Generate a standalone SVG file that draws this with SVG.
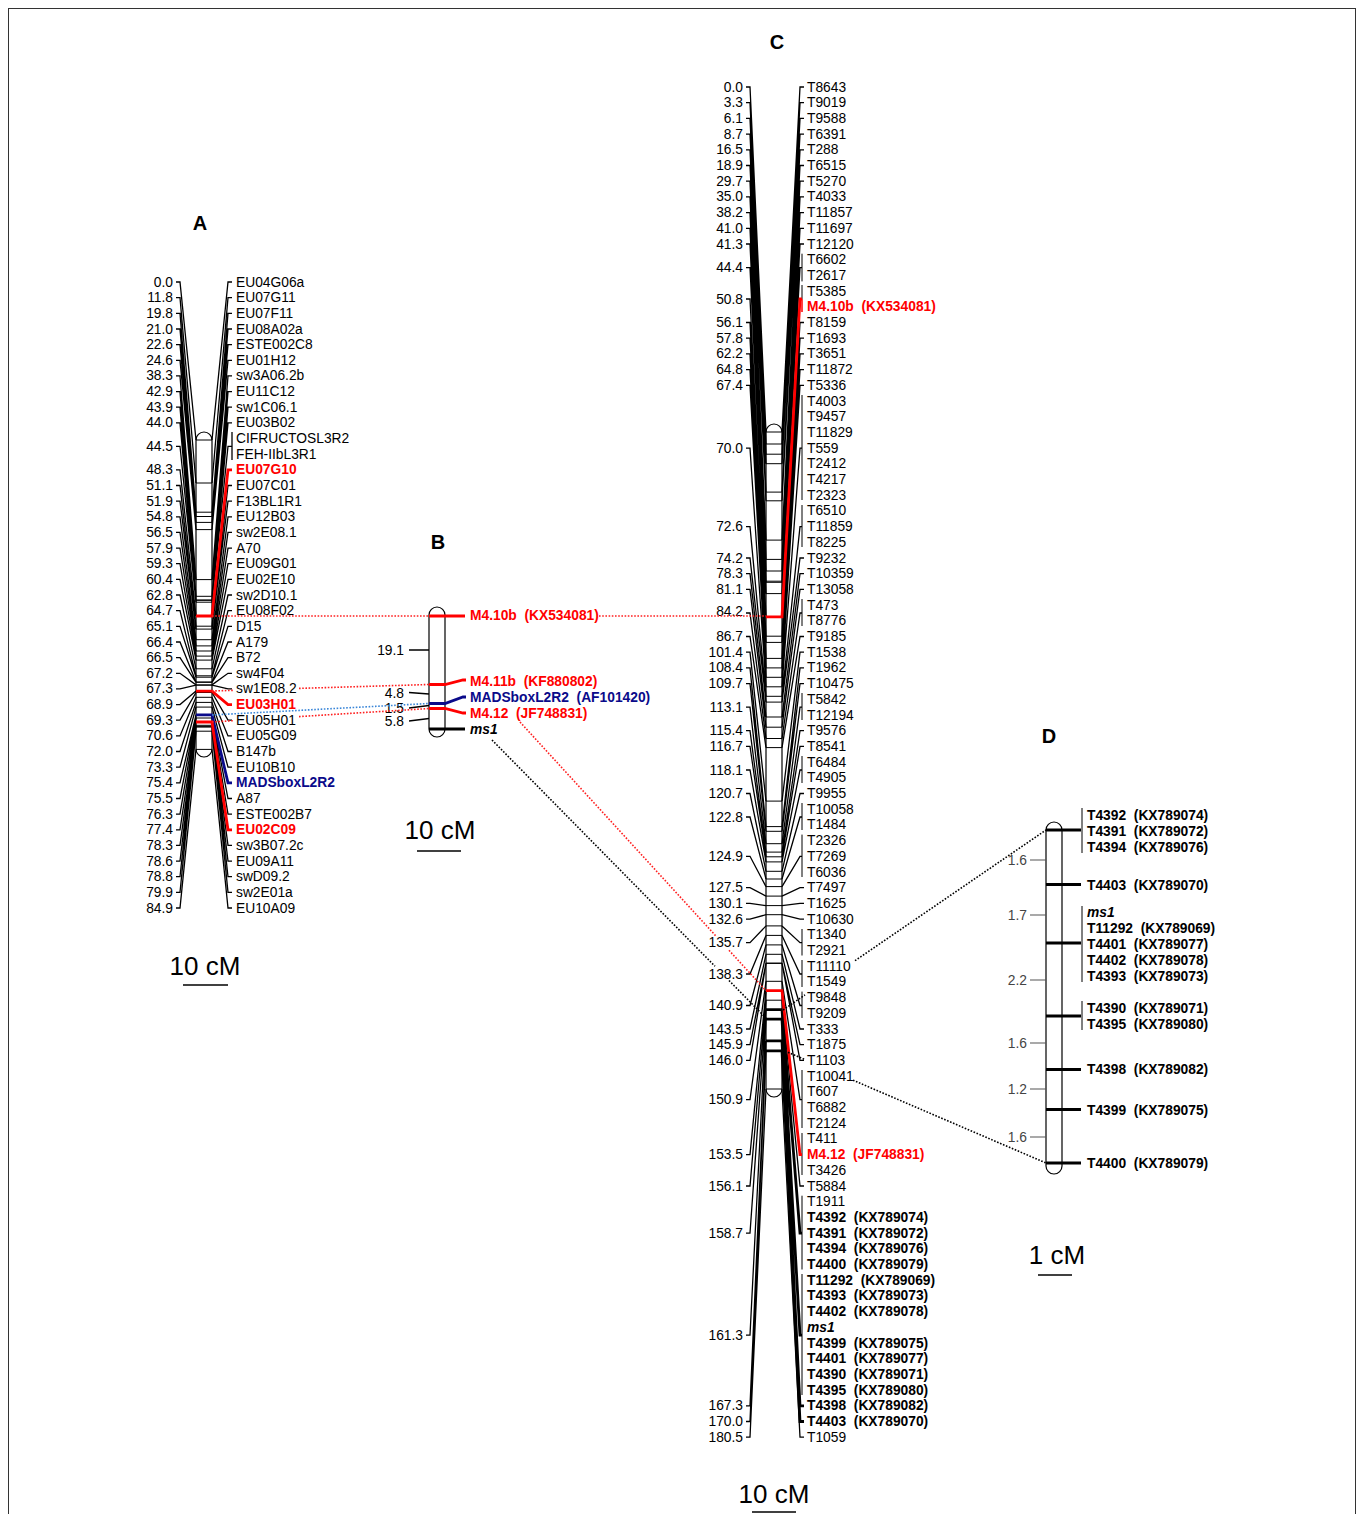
<svg xmlns="http://www.w3.org/2000/svg" width="1360" height="1514" viewBox="0 0 1360 1514">
<style>
text{font-family:"Liberation Sans",Arial,sans-serif;font-size:13.8px;dominant-baseline:central;fill:#000;white-space:pre}
.e{text-anchor:end}
.b{font-weight:bold}
.r{fill:#ff0000}
.u{fill:#0a0a8a}
.i{font-style:italic}
.g{fill:#444}
.t{font-size:20px;font-weight:bold;text-anchor:middle;dominant-baseline:auto}
.s{font-size:26px;text-anchor:middle;dominant-baseline:auto}
.cn{fill:none;stroke:#000;stroke-width:1.3}
.bl{fill:none;stroke:#000;stroke-width:1}
.ck{fill:none;stroke:#000;stroke-width:2.8}
.cr{fill:none;stroke:#ff0000;stroke-width:2.8}
.cu{fill:none;stroke:#0a0a8a;stroke-width:2.8}
.bar{fill:#fff;stroke:#000;stroke-width:1.2}
.dr{fill:none;stroke:#ff2020;stroke-width:1.6;stroke-dasharray:1.6 1.6}
.db{fill:none;stroke:#3a86d8;stroke-width:1.6;stroke-dasharray:1.6 1.6}
.dk{fill:none;stroke:#000;stroke-width:1.6;stroke-dasharray:1.6 1.6}
.gt{fill:none;stroke:#555;stroke-width:1.2}
.sb{stroke:#000;stroke-width:1.5}
</style>
<rect x="8.5" y="8.5" width="1347" height="1530" fill="none" stroke="#333" stroke-width="1"/>
<g id="map-A">
<text class="t" x="200" y="230">A</text>
<path class="bar" d="M196,440 A8,8 0 0 1 212,440 V749 A8,8 0 0 1 196,749 Z"/>
<path class="bl" d="M196,440H212M196,483H212M196,512.2H212M196,516.5H212M196,522.4H212M196,529.6H212M196,579.6H212M196,596.3H212M196,600H212M196,600.3H212M196,602.2H212M196,626.2H212M196,629.1H212M196,639.7H212M196,645.9H212M196,651H212M196,656.1H212M196,660.1H212M196,668.8H212M196,675.8H212M196,677.2H212M196,682H212M196,682.3H212M196,684.9H212M196,685.2H212M196,692.5H212M196,697.3H212M196,702.4H212M196,707.1H212M196,715.1H212M196,718H212M196,725.3H212M196,726.4H212M196,727.1H212M196,731.2H212M196,749.4H212"/>
<path class="cn" d="M176,282H180L196,440M176,297.7H180L196,483M176,313.3H180L196,512.2M176,329H180L196,516.5M176,344.6H180L196,522.4M176,360.3H180L196,529.6M176,375.9H180L196,579.6M176,391.6H180L196,596.3M176,407.2H180L196,600M176,422.9H180L196,600.3M176,446.3H180L196,602.2M176,469.8H180L196,616M176,485.5H180L196,626.2M176,501.1H180L196,629.1M176,516.8H180L196,639.7M176,532.4H180L196,645.9M176,548.1H180L196,651M176,563.7H180L196,656.1M176,579.4H180L196,660.1M176,595H180L196,668.8M176,610.7H180L196,675.8M176,626.3H180L196,677.2M176,642H180L196,682M176,657.6H180L196,682.3M176,673.3H180L196,684.9M176,688.9H180L196,685.2M176,704.6H180L196,691.1M176,720.2H180L196,692.5M176,735.9H180L196,697.3M176,751.5H180L196,702.4M176,767.2H180L196,707.1M176,782.8H180L196,714.8M176,798.5H180L196,715.1M176,814.1H180L196,718M176,829.8H180L196,722M176,845.4H180L196,725.3M176,861.1H180L196,726.4M176,876.7H180L196,727.1M176,892.4H180L196,731.2M176,908H180L196,749.4"/>
<path class="cn" d="M212,440L228,282H232M212,483L228,297.7H232M212,512.2L228,313.3H232M212,516.5L228,329H232M212,522.4L228,344.6H232M212,529.6L228,360.3H232M212,579.6L228,375.9H232M212,596.3L228,391.6H232M212,600L228,407.2H232M212,600.3L228,422.9H232M212,602.2L228,446.3H232M232,432V460M212,626.2L228,485.5H232M212,629.1L228,501.1H232M212,639.7L228,516.8H232M212,645.9L228,532.4H232M212,651L228,548.1H232M212,656.1L228,563.7H232M212,660.1L228,579.4H232M212,668.8L228,595H232M212,675.8L228,610.7H232M212,677.2L228,626.3H232M212,682L228,642H232M212,682.3L228,657.6H232M212,684.9L228,673.3H232M212,685.2L228,688.9H232M212,692.5L228,720.2H232M212,697.3L228,735.9H232M212,702.4L228,751.5H232M212,707.1L228,767.2H232M212,715.1L228,798.5H232M212,718L228,814.1H232M212,725.3L228,845.4H232M212,726.4L228,861.1H232M212,727.1L228,876.7H232M212,731.2L228,892.4H232M212,749.4L228,908H232"/>
<path class="cr" d="M196,616H212L228,469.8H232"/>
<path class="cr" d="M196,691.1H212L228,704.6H232"/>
<path class="cu" d="M196,714.8H212L228,782.8H232"/>
<path class="cr" d="M196,722H212L228,829.8H232"/>
<text class="e" x="173" y="282">0.0</text>
<text class="e" x="173" y="297.7">11.8</text>
<text class="e" x="173" y="313.3">19.8</text>
<text class="e" x="173" y="329">21.0</text>
<text class="e" x="173" y="344.6">22.6</text>
<text class="e" x="173" y="360.3">24.6</text>
<text class="e" x="173" y="375.9">38.3</text>
<text class="e" x="173" y="391.6">42.9</text>
<text class="e" x="173" y="407.2">43.9</text>
<text class="e" x="173" y="422.9">44.0</text>
<text class="e" x="173" y="446.3">44.5</text>
<text class="e" x="173" y="469.8">48.3</text>
<text class="e" x="173" y="485.5">51.1</text>
<text class="e" x="173" y="501.1">51.9</text>
<text class="e" x="173" y="516.8">54.8</text>
<text class="e" x="173" y="532.4">56.5</text>
<text class="e" x="173" y="548.1">57.9</text>
<text class="e" x="173" y="563.7">59.3</text>
<text class="e" x="173" y="579.4">60.4</text>
<text class="e" x="173" y="595">62.8</text>
<text class="e" x="173" y="610.7">64.7</text>
<text class="e" x="173" y="626.3">65.1</text>
<text class="e" x="173" y="642">66.4</text>
<text class="e" x="173" y="657.6">66.5</text>
<text class="e" x="173" y="673.3">67.2</text>
<text class="e" x="173" y="688.9">67.3</text>
<text class="e" x="173" y="704.6">68.9</text>
<text class="e" x="173" y="720.2">69.3</text>
<text class="e" x="173" y="735.9">70.6</text>
<text class="e" x="173" y="751.5">72.0</text>
<text class="e" x="173" y="767.2">73.3</text>
<text class="e" x="173" y="782.8">75.4</text>
<text class="e" x="173" y="798.5">75.5</text>
<text class="e" x="173" y="814.1">76.3</text>
<text class="e" x="173" y="829.8">77.4</text>
<text class="e" x="173" y="845.4">78.3</text>
<text class="e" x="173" y="861.1">78.6</text>
<text class="e" x="173" y="876.7">78.8</text>
<text class="e" x="173" y="892.4">79.9</text>
<text class="e" x="173" y="908">84.9</text>
<text x="236" y="282">EU04G06a</text>
<text x="236" y="297.7">EU07G11</text>
<text x="236" y="313.3">EU07F11</text>
<text x="236" y="329">EU08A02a</text>
<text x="236" y="344.6">ESTE002C8</text>
<text x="236" y="360.3">EU01H12</text>
<text x="236" y="375.9">sw3A06.2b</text>
<text x="236" y="391.6">EU11C12</text>
<text x="236" y="407.2">sw1C06.1</text>
<text x="236" y="422.9">EU03B02</text>
<text x="236" y="438.5">CIFRUCTOSL3R2</text>
<text x="236" y="454.2">FEH-IIbL3R1</text>
<text class="b r" x="236" y="469.8">EU07G10</text>
<text x="236" y="485.5">EU07C01</text>
<text x="236" y="501.1">F13BL1R1</text>
<text x="236" y="516.8">EU12B03</text>
<text x="236" y="532.4">sw2E08.1</text>
<text x="236" y="548.1">A70</text>
<text x="236" y="563.7">EU09G01</text>
<text x="236" y="579.4">EU02E10</text>
<text x="236" y="595">sw2D10.1</text>
<text x="236" y="610.7">EU08F02</text>
<text x="236" y="626.3">D15</text>
<text x="236" y="642">A179</text>
<text x="236" y="657.6">B72</text>
<text x="236" y="673.3">sw4F04</text>
<text x="236" y="688.9">sw1E08.2</text>
<text class="b r" x="236" y="704.6">EU03H01</text>
<text x="236" y="720.2">EU05H01</text>
<text x="236" y="735.9">EU05G09</text>
<text x="236" y="751.5">B147b</text>
<text x="236" y="767.2">EU10B10</text>
<text class="b u" x="236" y="782.8">MADSboxL2R2</text>
<text x="236" y="798.5">A87</text>
<text x="236" y="814.1">ESTE002B7</text>
<text class="b r" x="236" y="829.8">EU02C09</text>
<text x="236" y="845.4">sw3B07.2c</text>
<text x="236" y="861.1">EU09A11</text>
<text x="236" y="876.7">swD09.2</text>
<text x="236" y="892.4">sw2E01a</text>
<text x="236" y="908">EU10A09</text>
<text class="s" x="205" y="975">10 cM</text>
<line class="sb" x1="183" y1="985" x2="228" y2="985"/>
</g>
<g id="map-B">
<text class="t" x="438" y="549">B</text>
<path class="bar" d="M429,615 A8,8 0 0 1 445,615 V729 A8,8 0 0 1 429,729 Z"/>
<path class="cr" d="M429,616H465"/>
<path class="cr" d="M429,684.5H445L463,680H466"/>
<path class="cu" d="M429,703.5H445L463,697H466"/>
<path class="cr" d="M429,708.5H445L463,713H466"/>
<path class="ck" d="M429,729H465"/>
<path class="cn" d="M409,650H429M409,692.5L429,694M409,708L429,705.5M409,721L429,718.5"/>
<text class="e" x="404" y="650">19.1</text>
<text class="e" x="404" y="693">4.8</text>
<text class="e" x="404" y="708">1.5</text>
<text class="e" x="404" y="721">5.8</text>
<text class="b r" x="470" y="615">M4.10b  (KX534081)</text>
<text class="b r" x="470" y="681">M4.11b  (KF880802)</text>
<text class="b u" x="470" y="697">MADSboxL2R2  (AF101420)</text>
<text class="b r" x="470" y="713">M4.12  (JF748831)</text>
<text class="b i" x="470" y="729">ms1</text>
<text class="s" x="440" y="839">10 cM</text>
<line class="sb" x1="417" y1="851" x2="461" y2="851"/>
</g>
<g id="map-C">
<text class="t" x="777" y="49">C</text>
<path class="bar" d="M766,432 A8,8 0 0 1 782,432 V1089 A8,8 0 0 1 766,1089 Z"/>
<path class="bl" d="M766,432H782M766,444H782M766,454.2H782M766,463.7H782M766,492.1H782M766,500.8H782M766,540.1H782M766,559.4H782M766,571H782M766,581.2H782M766,582.3H782M766,593.6H782M766,636.2H782M766,642.4H782M766,658.4H782M766,667.9H782M766,677.3H782M766,686.8H782M766,696.3H782M766,702.1H782M766,717H782M766,727.2H782M766,738.5H782M766,747.6H782M766,801.1H782M766,826.6H782M766,831.3H782M766,843.7H782M766,852.1H782M766,856.8H782M766,861.9H782M766,871.3H782M766,879H782M766,886.6H782M766,896.1H782M766,905.6H782M766,914.7H782M766,925.9H782M766,935.4H782M766,944.9H782M766,954.3H782M766,963.1H782M766,963.4H782M766,981.3H782M766,1000.2H782M766,1089H782"/>
<path class="ck" d="M766,1009.7H782M766,1019.1H782M766,1040.9H782M766,1050.8H782"/>
<path class="cn" d="M746,87H750L766,432M746,102.7H750L766,444M746,118.4H750L766,454.2M746,134.1H750L766,463.7M746,149.8H750L766,492.1M746,165.5H750L766,500.8M746,181.2H750L766,540.1M746,196.9H750L766,559.4M746,212.6H750L766,571M746,228.3H750L766,581.2M746,244H750L766,582.3M746,267.6H750L766,593.6M746,299H750L766,616.9M746,322.5H750L766,636.2M746,338.2H750L766,642.4M746,353.9H750L766,658.4M746,369.6H750L766,667.9M746,385.3H750L766,677.3M746,448.1H750L766,686.8M746,526.6H750L766,696.3M746,558H750L766,702.1M746,573.7H750L766,717M746,589.4H750L766,727.2M746,613H750L766,738.5M746,636.5H750L766,747.6M746,652.2H750L766,801.1M746,667.9H750L766,826.6M746,683.6H750L766,831.3M746,707.2H750L766,843.7M746,730.7H750L766,852.1M746,746.4H750L766,856.8M746,770H750L766,861.9M746,793.5H750L766,871.3M746,817H750L766,879M746,856.3H750L766,886.6M746,887.7H750L766,896.1M746,903.4H750L766,905.6M746,919.1H750L766,914.7M746,942.7H750L766,925.9M746,974H750L766,935.4M746,1005.5H750L766,944.9M746,1029H750L766,954.3M746,1044.7H750L766,963.1M746,1060.4H750L766,963.4M746,1099.7H750L766,981.3M746,1154.6H750L766,990.7M746,1186H750L766,1000.2M746,1233.1H750L766,1009.7M746,1335.2H750L766,1019.1M746,1405.8H750L766,1040.9M746,1421.5H750L766,1050.8M746,1437.2H750L766,1089"/>
<path class="cn" d="M782,432L800,87H804M782,444L800,102.7H804M782,454.2L800,118.4H804M782,463.7L800,134.1H804M782,492.1L800,149.8H804M782,500.8L800,165.5H804M782,540.1L800,181.2H804M782,559.4L800,196.9H804M782,571L800,212.6H804M782,581.2L800,228.3H804M782,582.3L800,244H804M782,593.6L800,267.6H802M782,636.2L800,322.5H804M782,642.4L800,338.2H804M782,658.4L800,353.9H804M782,667.9L800,369.6H804M782,677.3L800,385.3H804M782,686.8L800,448.1H802M782,696.3L800,526.6H802M782,702.1L800,558H804M782,717L800,573.7H804M782,727.2L800,589.4H804M782,738.5L800,613H802M782,747.6L800,636.5H804M782,801.1L800,652.2H804M782,826.6L800,667.9H804M782,831.3L800,683.6H804M782,843.7L800,707.2H802M782,852.1L800,730.7H804M782,856.8L800,746.4H804M782,861.9L800,770H802M782,871.3L800,793.5H804M782,879L800,817H802M782,886.6L800,856.3H802M782,896.1L800,887.7H804M782,905.6L800,903.4H804M782,914.7L800,919.1H804M782,925.9L800,942.7H802M782,935.4L800,974H802M782,944.9L800,1005.5H802M782,954.3L800,1029H804M782,963.1L800,1044.7H804M782,963.4L800,1060.4H804M782,981.3L800,1099.7H802M782,1000.2L800,1186H804M782,1089L800,1437.2H804"/>
<path class="bl" d="M802,253.7V281.4M802,285V299M802,395V500M802,505V547M802,599V626M802,693V720M802,756V783M802,803V830M802,834.6V877M802,929V955.5M802,960V987M802,991.6V1018M802,1070V1128M802,1133V1175M802,1195.7V1269.5M802,1274V1395"/>
<path class="ck" d="M782,1009.7L800,1233.1H802M782,1019.1L800,1335.2H802M782,1040.9L800,1405.8H804M782,1050.8L800,1421.5H804"/>
<path class="cr" d="M766,616.9H782L800,299H802"/>
<path class="cr" d="M802,299V312" style="stroke-width:1.5"/>
<path class="cr" d="M766,990.7H782L800,1154.6H802"/>
<text class="e" x="743" y="87">0.0</text>
<text class="e" x="743" y="102.7">3.3</text>
<text class="e" x="743" y="118.4">6.1</text>
<text class="e" x="743" y="134.1">8.7</text>
<text class="e" x="743" y="149.8">16.5</text>
<text class="e" x="743" y="165.5">18.9</text>
<text class="e" x="743" y="181.2">29.7</text>
<text class="e" x="743" y="196.9">35.0</text>
<text class="e" x="743" y="212.6">38.2</text>
<text class="e" x="743" y="228.3">41.0</text>
<text class="e" x="743" y="244">41.3</text>
<text class="e" x="743" y="267.6">44.4</text>
<text class="e" x="743" y="299">50.8</text>
<text class="e" x="743" y="322.5">56.1</text>
<text class="e" x="743" y="338.2">57.8</text>
<text class="e" x="743" y="353.9">62.2</text>
<text class="e" x="743" y="369.6">64.8</text>
<text class="e" x="743" y="385.3">67.4</text>
<text class="e" x="743" y="448.1">70.0</text>
<text class="e" x="743" y="526.6">72.6</text>
<text class="e" x="743" y="558">74.2</text>
<text class="e" x="743" y="573.7">78.3</text>
<text class="e" x="743" y="589.4">81.1</text>
<text class="e" x="743" y="611">84.2</text>
<text class="e" x="743" y="636.5">86.7</text>
<text class="e" x="743" y="652.2">101.4</text>
<text class="e" x="743" y="667.9">108.4</text>
<text class="e" x="743" y="683.6">109.7</text>
<text class="e" x="743" y="707.2">113.1</text>
<text class="e" x="743" y="730.7">115.4</text>
<text class="e" x="743" y="746.4">116.7</text>
<text class="e" x="743" y="770">118.1</text>
<text class="e" x="743" y="793.5">120.7</text>
<text class="e" x="743" y="817">122.8</text>
<text class="e" x="743" y="856.3">124.9</text>
<text class="e" x="743" y="887.7">127.5</text>
<text class="e" x="743" y="903.4">130.1</text>
<text class="e" x="743" y="919.1">132.6</text>
<text class="e" x="743" y="942.7">135.7</text>
<text class="e" x="743" y="974">138.3</text>
<text class="e" x="743" y="1005.5">140.9</text>
<text class="e" x="743" y="1029">143.5</text>
<text class="e" x="743" y="1044.7">145.9</text>
<text class="e" x="743" y="1060.4">146.0</text>
<text class="e" x="743" y="1099.7">150.9</text>
<text class="e" x="743" y="1154.6">153.5</text>
<text class="e" x="743" y="1186">156.1</text>
<text class="e" x="743" y="1233.1">158.7</text>
<text class="e" x="743" y="1335.2">161.3</text>
<text class="e" x="743" y="1405.8">167.3</text>
<text class="e" x="743" y="1421.5">170.0</text>
<text class="e" x="743" y="1437.2">180.5</text>
<text x="807" y="87">T8643</text>
<text x="807" y="102.7">T9019</text>
<text x="807" y="118.4">T9588</text>
<text x="807" y="134.1">T6391</text>
<text x="807" y="149.8">T288</text>
<text x="807" y="165.5">T6515</text>
<text x="807" y="181.2">T5270</text>
<text x="807" y="196.9">T4033</text>
<text x="807" y="212.6">T11857</text>
<text x="807" y="228.3">T11697</text>
<text x="807" y="244">T12120</text>
<text x="807" y="259.7">T6602</text>
<text x="807" y="275.4">T2617</text>
<text x="807" y="291.1">T5385</text>
<text class="b r" x="807" y="306.8">M4.10b  (KX534081)</text>
<text x="807" y="322.5">T8159</text>
<text x="807" y="338.2">T1693</text>
<text x="807" y="353.9">T3651</text>
<text x="807" y="369.6">T11872</text>
<text x="807" y="385.3">T5336</text>
<text x="807" y="401">T4003</text>
<text x="807" y="416.7">T9457</text>
<text x="807" y="432.4">T11829</text>
<text x="807" y="448.1">T559</text>
<text x="807" y="463.8">T2412</text>
<text x="807" y="479.5">T4217</text>
<text x="807" y="495.2">T2323</text>
<text x="807" y="510.9">T6510</text>
<text x="807" y="526.6">T11859</text>
<text x="807" y="542.3">T8225</text>
<text x="807" y="558">T9232</text>
<text x="807" y="573.7">T10359</text>
<text x="807" y="589.4">T13058</text>
<text x="807" y="605.1">T473</text>
<text x="807" y="620.8">T8776</text>
<text x="807" y="636.5">T9185</text>
<text x="807" y="652.2">T1538</text>
<text x="807" y="667.9">T1962</text>
<text x="807" y="683.6">T10475</text>
<text x="807" y="699.3">T5842</text>
<text x="807" y="715">T12194</text>
<text x="807" y="730.7">T9576</text>
<text x="807" y="746.4">T8541</text>
<text x="807" y="762.1">T6484</text>
<text x="807" y="777.8">T4905</text>
<text x="807" y="793.5">T9955</text>
<text x="807" y="809.2">T10058</text>
<text x="807" y="824.9">T1484</text>
<text x="807" y="840.6">T2326</text>
<text x="807" y="856.3">T7269</text>
<text x="807" y="872">T6036</text>
<text x="807" y="887.7">T7497</text>
<text x="807" y="903.4">T1625</text>
<text x="807" y="919.1">T10630</text>
<text x="807" y="934.8">T1340</text>
<text x="807" y="950.5">T2921</text>
<text x="807" y="966.2">T11110</text>
<text x="807" y="981.9">T1549</text>
<text x="807" y="997.6">T9848</text>
<text x="807" y="1013.3">T9209</text>
<text x="807" y="1029">T333</text>
<text x="807" y="1044.7">T1875</text>
<text x="807" y="1060.4">T1103</text>
<text x="807" y="1076.1">T10041</text>
<text x="807" y="1091.8">T607</text>
<text x="807" y="1107.5">T6882</text>
<text x="807" y="1123.2">T2124</text>
<text x="807" y="1138.9">T411</text>
<text class="b r" x="807" y="1154.6">M4.12  (JF748831)</text>
<text x="807" y="1170.3">T3426</text>
<text x="807" y="1186">T5884</text>
<text x="807" y="1201.7">T1911</text>
<text class="b" x="807" y="1217.4">T4392  (KX789074)</text>
<text class="b" x="807" y="1233.1">T4391  (KX789072)</text>
<text class="b" x="807" y="1248.8">T4394  (KX789076)</text>
<text class="b" x="807" y="1264.5">T4400  (KX789079)</text>
<text class="b" x="807" y="1280.2">T11292  (KX789069)</text>
<text class="b" x="807" y="1295.9">T4393  (KX789073)</text>
<text class="b" x="807" y="1311.6">T4402  (KX789078)</text>
<text class="b i" x="807" y="1327.3">ms1</text>
<text class="b" x="807" y="1343">T4399  (KX789075)</text>
<text class="b" x="807" y="1358.7">T4401  (KX789077)</text>
<text class="b" x="807" y="1374.4">T4390  (KX789071)</text>
<text class="b" x="807" y="1390.1">T4395  (KX789080)</text>
<text class="b" x="807" y="1405.8">T4398  (KX789082)</text>
<text class="b" x="807" y="1421.5">T4403  (KX789070)</text>
<text x="807" y="1437.2">T1059</text>
<text class="s" x="774" y="1503">10 cM</text>
<line class="sb" x1="752" y1="1512" x2="796" y2="1512"/>
</g>
<g id="map-D">
<text class="t" x="1049" y="743">D</text>
<path class="bar" d="M1046,830 A8,8 0 0 1 1062,830 V1166 A8,8 0 0 1 1046,1166 Z"/>
<path class="ck" d="M1046,830H1081M1046,884.5H1081M1046,943H1081M1046,1016H1081M1046,1069.5H1081M1046,1109.5H1081M1046,1163H1081"/>
<path class="bl" d="M1082,808V853M1082,906V982M1082,1001V1030"/>
<path class="gt" d="M1030,860H1046M1030,915H1046M1030,980H1046M1030,1043H1046M1030,1089H1046M1030,1137H1046"/>
<text class="e g" x="1027" y="860">1.6</text>
<text class="e g" x="1027" y="915">1.7</text>
<text class="e g" x="1027" y="980">2.2</text>
<text class="e g" x="1027" y="1043">1.6</text>
<text class="e g" x="1027" y="1089">1.2</text>
<text class="e g" x="1027" y="1137">1.6</text>
<text class="b" x="1087" y="815">T4392  (KX789074)</text>
<text class="b" x="1087" y="831">T4391  (KX789072)</text>
<text class="b" x="1087" y="847">T4394  (KX789076)</text>
<text class="b" x="1087" y="885">T4403  (KX789070)</text>
<text class="b i" x="1087" y="912">ms1</text>
<text class="b" x="1087" y="928">T11292  (KX789069)</text>
<text class="b" x="1087" y="944">T4401  (KX789077)</text>
<text class="b" x="1087" y="960">T4402  (KX789078)</text>
<text class="b" x="1087" y="976">T4393  (KX789073)</text>
<text class="b" x="1087" y="1008">T4390  (KX789071)</text>
<text class="b" x="1087" y="1024">T4395  (KX789080)</text>
<text class="b" x="1087" y="1069.5">T4398  (KX789082)</text>
<text class="b" x="1087" y="1110">T4399  (KX789075)</text>
<text class="b" x="1087" y="1163">T4400  (KX789079)</text>
<text class="s" x="1057" y="1264">1 cM</text>
<line class="sb" x1="1038" y1="1275" x2="1072" y2="1275"/>
</g>
<g id="connectors">
<path class="dr" d="M212,616H429"/>
<path class="dr" d="M212,691L234,690.3M299,688.4L429,684.5"/>
<path class="db" d="M212,715L429,703.5"/>
<path class="dr" d="M212,722L234,720.6M299,716.6L429,708.5"/>
<path class="dr" d="M599,616H766"/>
<path class="dr" d="M520,722L716,936.1M729,950.3L766,990.7"/>
<path class="dk" d="M492,740L715,966.3M729,980.5L767,1019.1"/>
<path class="dk" d="M783,1010L805,994.9M855,960.7L1046,830"/>
<path class="dk" d="M785,1051L805,1059.6M853,1080.2L1046,1163"/>
</g>
</svg>
